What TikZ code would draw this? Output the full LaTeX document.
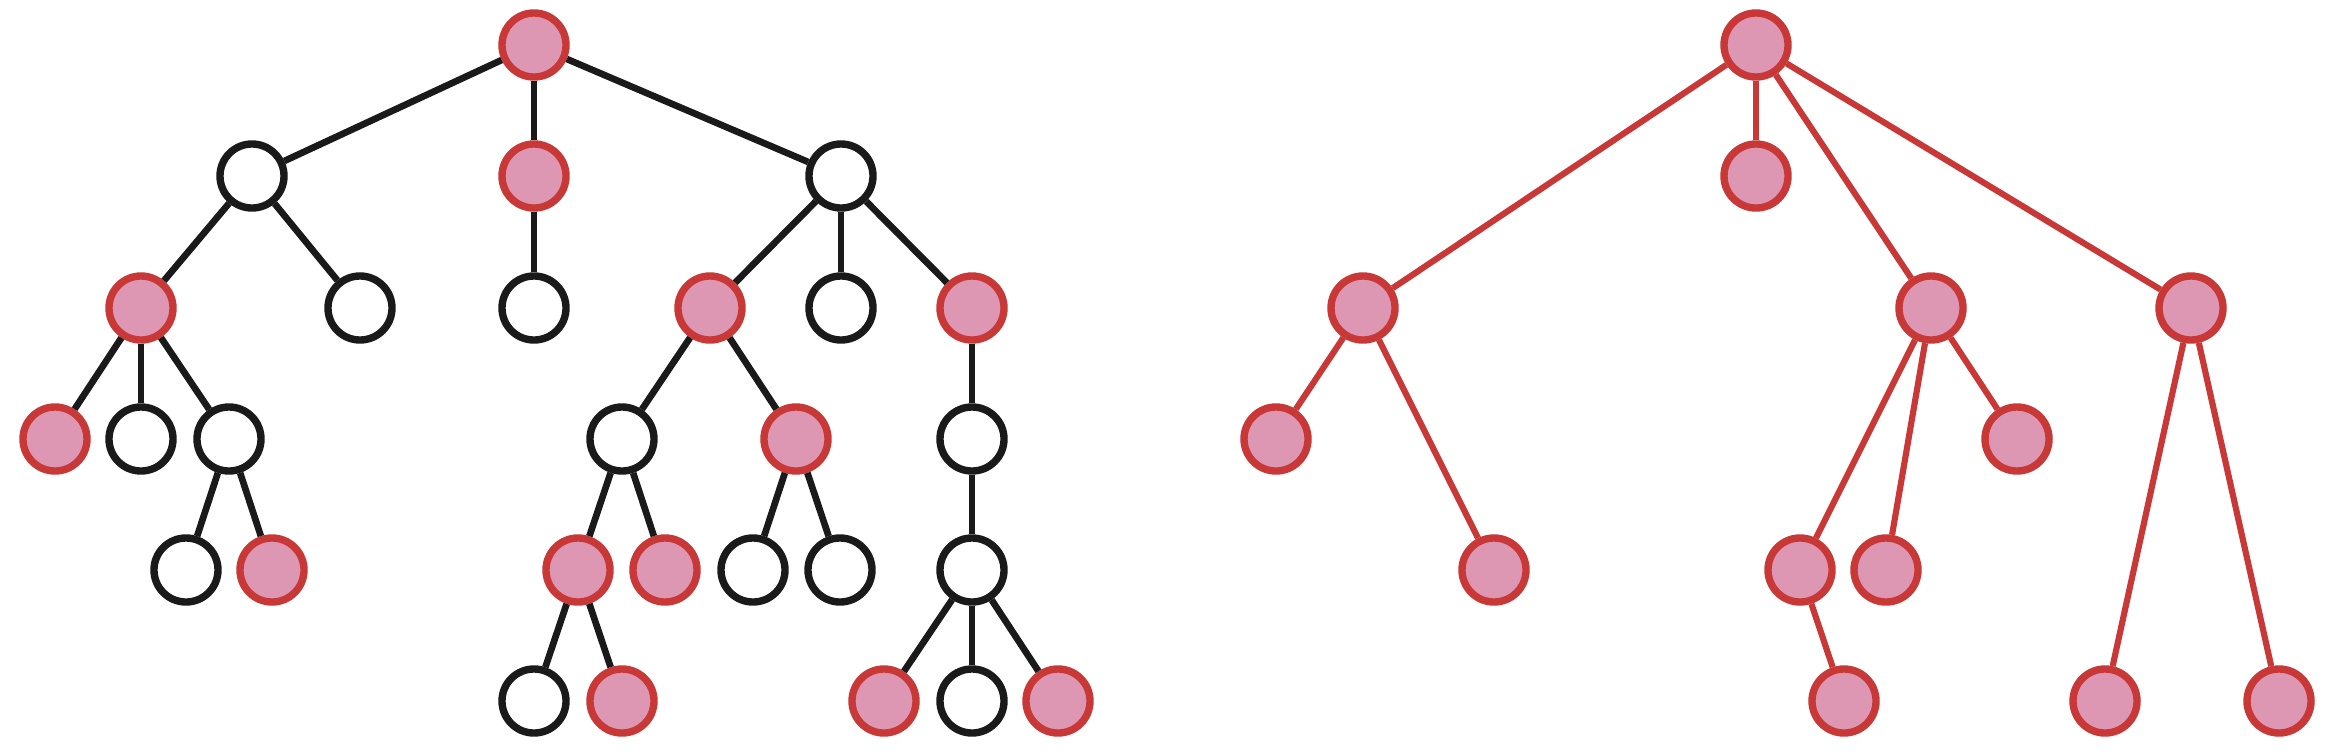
\documentclass[tikz,border=0pt]{standalone}
\definecolor{treered}{RGB}{200,56,55}
\definecolor{treepink}{RGB}{221,151,179}
\definecolor{treeblack}{RGB}{26,26,26}
\tikzset{
	wnode/.style={circle, draw=treeblack, fill=white, line width=2.1pt, minimum size=0.64cm, inner sep=0pt},
	pnode/.style={circle, draw=treered, fill=treepink, line width=2.1pt, minimum size=0.64cm, inner sep=0pt},
	bedge/.style={draw=treeblack, line width=1.9pt},
	redge/.style={draw=treered, line width=1.75pt}
}
\begin{document}
\begin{tikzpicture}[x=0.01cm, y=-0.01cm]
		\useasboundingbox (0,0) rectangle (2334,754);
		% full tree
		\node (R) at (534,45) [pnode] {};
		\node (A) at (252,176) [wnode] {};
		\node (B) at (534,176) [pnode] {};
		\node (C) at (841,176) [wnode] {};
		\node (A1) at (141,308) [pnode] {};
		\node (A2) at (360,308) [wnode] {};
		\node (B1) at (534,308) [wnode] {};
		\node (C1) at (710,308) [pnode] {};
		\node (C2) at (841,308) [wnode] {};
		\node (C3) at (972,308) [pnode] {};
		\node (A11) at (55,439) [pnode] {};
		\node (A12) at (141,439) [wnode] {};
		\node (A13) at (229,439) [wnode] {};
		\node (C11) at (622,439) [wnode] {};
		\node (C12) at (796,439) [pnode] {};
		\node (C31) at (972,439) [wnode] {};
		\node (A131) at (186,570) [wnode] {};
		\node (A132) at (272,570) [pnode] {};
		\node (C111) at (578,570) [pnode] {};
		\node (C112) at (665,570) [pnode] {};
		\node (C121) at (753,570) [wnode] {};
		\node (C122) at (840,570) [wnode] {};
		\node (C311) at (972,570) [wnode] {};
		\node (C1111) at (534,701) [wnode] {};
		\node (C1112) at (622,701) [pnode] {};
		\node (C3111) at (884,701) [pnode] {};
		\node (C3112) at (972,701) [wnode] {};
		\node (C3113) at (1058,701) [pnode] {};
		
		\draw [bedge] (R) -- (A);
		\draw [bedge] (R) -- (B);
		\draw [bedge] (R) -- (C);
		\draw [bedge] (A) -- (A1);
		\draw [bedge] (A) -- (A2);
		\draw [bedge] (B) -- (B1);
		\draw [bedge] (C) -- (C1);
		\draw [bedge] (C) -- (C2);
		\draw [bedge] (C) -- (C3);
		\draw [bedge] (A1) -- (A11);
		\draw [bedge] (A1) -- (A12);
		\draw [bedge] (A1) -- (A13);
		\draw [bedge] (C1) -- (C11);
		\draw [bedge] (C1) -- (C12);
		\draw [bedge] (C3) -- (C31);
		\draw [bedge] (A13) -- (A131);
		\draw [bedge] (A13) -- (A132);
		\draw [bedge] (C11) -- (C111);
		\draw [bedge] (C11) -- (C112);
		\draw [bedge] (C12) -- (C121);
		\draw [bedge] (C12) -- (C122);
		\draw [bedge] (C31) -- (C311);
		\draw [bedge] (C111) -- (C1111);
		\draw [bedge] (C111) -- (C1112);
		\draw [bedge] (C311) -- (C3111);
		\draw [bedge] (C311) -- (C3112);
		\draw [bedge] (C311) -- (C3113);
		
		% marked nodes only
		\node (SR) at (1756,45) [pnode] {};
		\node (SB) at (1756,176) [pnode] {};
		\node (SA1) at (1363,308) [pnode] {};
		\node (SC1) at (1931,308) [pnode] {};
		\node (SC3) at (2191,308) [pnode] {};
		\node (SA11) at (1276,439) [pnode] {};
		\node (SC12) at (2017,439) [pnode] {};
		\node (SA132) at (1494,570) [pnode] {};
		\node (SC111) at (1800,570) [pnode] {};
		\node (SC112) at (1886,570) [pnode] {};
		\node (SC1112) at (1844,701) [pnode] {};
		\node (SC3111) at (2105,701) [pnode] {};
		\node (SC3113) at (2279,701) [pnode] {};
		
		\draw [redge] (SR) -- (SB);
		\draw [redge] (SR) -- (SA1);
		\draw [redge] (SR) -- (SC1);
		\draw [redge] (SR) -- (SC3);
		\draw [redge] (SA1) -- (SA11);
		\draw [redge] (SA1) -- (SA132);
		\draw [redge] (SC1) -- (SC111);
		\draw [redge] (SC1) -- (SC112);
		\draw [redge] (SC1) -- (SC12);
		\draw [redge] (SC111) -- (SC1112);
		\draw [redge] (SC3) -- (SC3111);
		\draw [redge] (SC3) -- (SC3113);
		\end{tikzpicture}
\end{document}
